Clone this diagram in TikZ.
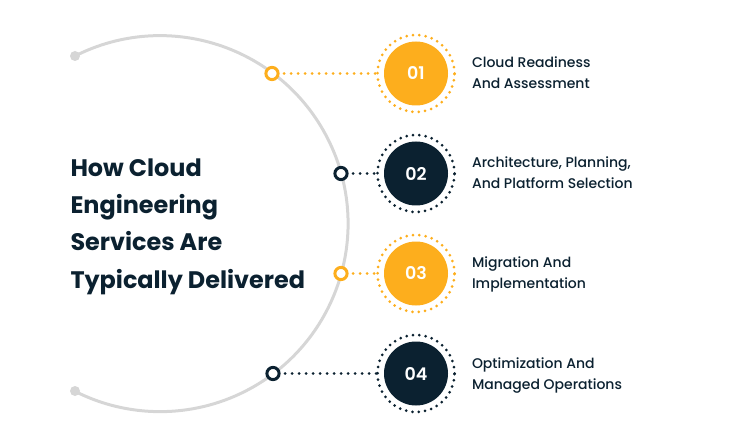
\documentclass[tikz,border=0pt]{standalone}
\usepackage{fontspec}
\setmainfont{Poppins}
\newfontfamily\capfont{Poppins Medium}
\newfontfamily\numfont{Poppins SemiBold}
\usepackage{tikz}
\usetikzlibrary{positioning}

\definecolor{amber}{HTML}{FDAE1D}
\definecolor{navy}{HTML}{0B2130}
\definecolor{arcgray}{HTML}{D6D6D6}

\begin{document}
\begin{tikzpicture}[x=1pt,y=-1pt]
        \tikzstyle{every node}=[inner sep=0pt, outer sep=0pt]
        \tikzstyle{disc}=[circle, minimum size=64pt, text=white, font=\fontsize{17.5}{20}\selectfont\numfont]
        \tikzstyle{ring}=[circle, draw, minimum size=77pt, line width=3pt, line cap=round, dash pattern=on 0pt off 6.35pt]
        \tikzstyle{marker}=[circle, fill=white, line width=3pt, minimum size=12.2pt]
        \tikzstyle{link}=[line width=2.8pt, line cap=round, dash pattern=on 0pt off 7pt]
        \tikzstyle{caption}=[anchor=base west, align=left, text=navy, font=\fontsize{14}{21}\selectfont\capfont]

        \useasboundingbox (0,0) rectangle (754,446);

        % big arc
        \node (arcstart) [circle, fill=arcgray, minimum size=10pt] at (75,56) {};
        \node (arcend)   [circle, fill=arcgray, minimum size=10pt] at (75,391) {};
        \draw[arcgray, line width=3pt] (arcstart.center) arc[start angle=-116.9, end angle=116.9, radius=188];

        % steps
        \node (disc1) [disc, fill=amber] at (416,73.5)  {01};
        \node (disc2) [disc, fill=navy]  at (416,173.5) {02};
        \node (disc3) [disc, fill=amber] at (416,273.5) {03};
        \node (disc4) [disc, fill=navy]  at (416,373.5) {04};

        \node (ring1) [ring, amber] at (disc1) {};
        \node (ring2) [ring, navy]  at (disc2) {};
        \node (ring3) [ring, amber] at (disc3) {};
        \node (ring4) [ring, navy]  at (disc4) {};

        \node (marker1) [marker, draw=amber] at (272,73.5)  {};
        \node (marker2) [marker, draw=navy]  at (341,173.5) {};
        \node (marker3) [marker, draw=amber] at (341,273.5) {};
        \node (marker4) [marker, draw=navy]  at (273,373.5) {};

        \draw[link, amber] ([xshift=6pt]marker1.east) -- (ring1);
        \draw[link, navy]  ([xshift=6pt]marker2.east) -- (ring2);
        \draw[link, amber] ([xshift=6pt]marker3.east) -- (ring3);
        \draw[link, navy]  ([xshift=6pt]marker4.east) -- (ring4);

        \node (text1) [caption] at ([xshift=56pt,yshift=-15.5pt]disc1) {Cloud Readiness\\And Assessment};
        \node (text2) [caption] at ([xshift=56pt,yshift=-15.5pt]disc2) {Architecture, Planning,\\And Platform Selection};
        \node (text3) [caption] at ([xshift=56pt,yshift=-14.5pt]disc3) {Migration And\\Implementation};
        \node (text4) [caption] at ([xshift=56pt,yshift=-15.5pt]disc4) {Optimization And\\Managed Operations};

        \node (title) [anchor=west, align=left, text=navy, font=\fontsize{23.9}{37.3}\selectfont\bfseries] at (70.5,226.5)
            {How Cloud\\Engineering\\Services Are\\Typically Delivered};

    \end{tikzpicture}
\end{document}
